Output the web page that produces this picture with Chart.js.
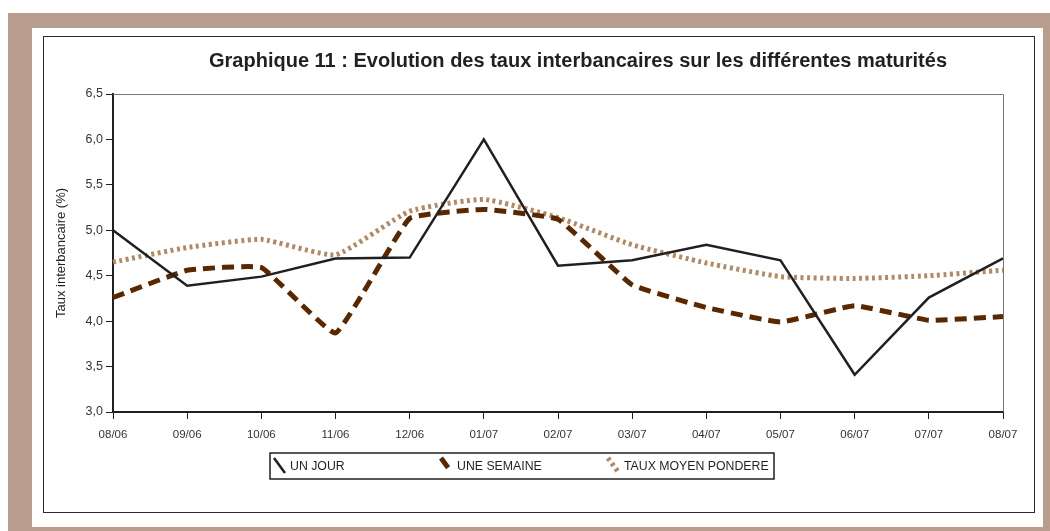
<!DOCTYPE html>
<html>
<head>
<meta charset="utf-8">
<script src="https://cdn.jsdelivr.net/npm/chart.js@4.4.1/dist/chart.umd.min.js"></script>
<style>
  body { margin: 0; background: #fff; width: 1050px; height: 531px; overflow: hidden; position: relative; }
  #frame { position: absolute; left: 8px; top: 13px; width: 1042px; height: 518px; background: #b89c8e; }
  #inner { position: absolute; left: 32px; top: 28px; width: 1011px; height: 499px; background: #fff; }
  #box { position: absolute; left: 43px; top: 36px; width: 990px; height: 475px; border: 1.5px solid #2a2a2a; background: #fff; }
  #chart { position: absolute; left: 0; top: 0; }
</style>
</head>
<body>
<div id="frame"></div>
<div id="inner"></div>
<div id="box"><canvas id="chart" width="990" height="475"></canvas></div>
<script>
const labels = ["08/06", "09/06", "10/06", "11/06", "12/06", "01/07", "02/07", "03/07", "04/07", "05/07", "06/07", "07/07", "08/07"];
const unJour = [5.00, 4.39, 4.49, 4.69, 4.70, 6.00, 4.61, 4.67, 4.84, 4.67, 3.41, 4.26, 4.69];
const uneSemaine = [4.26, 4.56, 4.59, 3.87, 5.13, 5.23, 5.12, 4.40, 4.15, 3.99, 4.17, 4.01, 4.05];
const tauxMoyen = [4.65, 4.81, 4.90, 4.73, 5.21, 5.34, 5.14, 4.84, 4.64, 4.49, 4.47, 4.50, 4.56];
const seriesNames = ["UN JOUR", "UNE SEMAINE", "TAUX MOYEN PONDERE"];
const titleText = "Graphique 11 : Evolution des taux interbancaires sur les différentes maturités";

const fontFamily = "'Liberation Sans', Arial, sans-serif";
const fmt = v => Number(v).toFixed(1).replace(".", ",");

// title, plot box frame and custom legend
const decor = {
    id: "decor",
    afterDraw(chart) {
        const ctx = chart.ctx;
        const a = chart.chartArea;
        ctx.save();
        // thin grey top/right edge of the plot
        ctx.strokeStyle = "#777";
        ctx.lineWidth = 1;
        ctx.beginPath();
        ctx.moveTo(a.left, a.top + 0.5);
        ctx.lineTo(a.right + 0.5, a.top + 0.5);
        ctx.lineTo(a.right + 0.5, a.bottom);
        ctx.stroke();

        ctx.fillStyle = "#231f20";
        ctx.font = "bold 20px " + fontFamily;
        ctx.textAlign = "center";
        ctx.textBaseline = "middle";
        ctx.fillText(titleText, 534, 24);

        // legend box
        const lx = 226, ly = 416, lw = 504, lh = 26;
        ctx.strokeStyle = "#231f20";
        ctx.lineWidth = 1.5;
        ctx.strokeRect(lx, ly, lw, lh);
        const itemX = [lx + 4, lx + 171, lx + 338];
        ctx.font = "12.3px " + fontFamily;
        ctx.textAlign = "left";
        chart.data.datasets.forEach((ds, i) => {
            const x = itemX[i];
            ctx.save();
            ctx.strokeStyle = ds.borderColor;
            ctx.lineWidth = ds.borderWidth;
            ctx.setLineDash(ds.borderDash || []);
            ctx.beginPath();
            ctx.moveTo(x, ly + 5);
            ctx.lineTo(x + 11, ly + 20);
            ctx.stroke();
            ctx.restore();
            ctx.fillStyle = "#231f20";
            ctx.fillText(ds.label, x + 16, ly + 13.5);
        });
        ctx.restore();
    }
};

new Chart(document.getElementById("chart"), {
    type: "line",
    data: {
        labels,
        datasets: [
            { label: seriesNames[0], data: unJour, borderColor: "#231f20", borderWidth: 2.5, tension: 0, pointRadius: 0 },
            { label: seriesNames[1], data: uneSemaine, borderColor: "#5a2800", borderWidth: 5, borderDash: [12, 7], tension: 0.1, pointRadius: 0 },
            { label: seriesNames[2], data: tauxMoyen, borderColor: "#b08a66", borderWidth: 5, borderDash: [3, 3.5], tension: 0.15, pointRadius: 0 }
        ]
    },
    options: {
        responsive: false,
        animation: false,
        layout: { padding: { left: 0, top: 57, right: 31, bottom: 0 } },
        plugins: {
            legend: { display: false },
            title: { display: false },
            tooltip: { enabled: false }
        },
        scales: {
            x: {
                offset: false,
                afterFit: s => { s.height = 100; },
                grid: { display: true, drawOnChartArea: false, drawTicks: true, tickLength: 7, color: "#231f20", lineWidth: 1 },
                border: { display: true, color: "#231f20", width: 2 },
                ticks: { color: "#333", font: { size: 11.5, family: fontFamily }, padding: 9, maxRotation: 0, autoSkip: false }
            },
            y: {
                min: 3,
                max: 6.5,
                afterFit: s => { s.width = 69; },
                grid: { display: true, drawOnChartArea: false, drawTicks: true, tickLength: 7, color: "#231f20", lineWidth: 1 },
                border: { display: true, color: "#231f20", width: 2 },
                ticks: { stepSize: 0.5, color: "#333", font: { size: 12.5, family: fontFamily }, padding: 3, callback: v => fmt(v) },
                title: { display: true, text: "Taux interbancaire (%)", color: "#231f20", font: { size: 13, family: fontFamily }, padding: { top: 10, bottom: 0 } }
            }
        }
    },
    plugins: [decor]
});
</script>
</body>
</html>
